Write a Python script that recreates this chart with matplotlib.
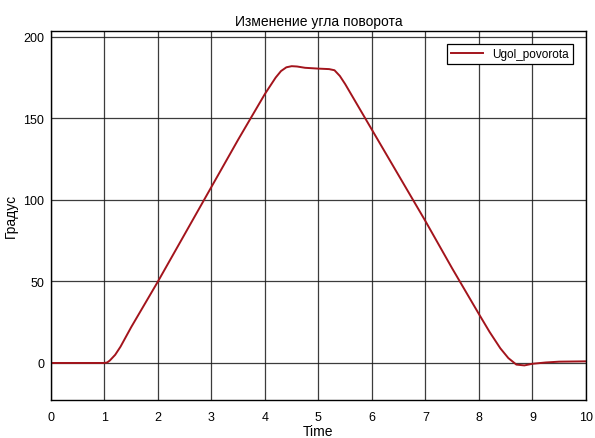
import numpy as np
import matplotlib
matplotlib.use("Agg")
import matplotlib.pyplot as plt

plt.rcParams['font.family'] = ['Liberation Sans', 'DejaVu Sans']

# values
time = [0, 0.5, 1.0, 1.05, 1.1, 1.2, 1.3, 1.4, 1.5, 1.75, 2.0, 2.5, 3.0, 3.5, 4.0,
        4.1, 4.2, 4.3, 4.4, 4.5, 4.6, 4.75, 5.0, 5.2, 5.3, 5.4, 5.5, 5.75, 6.0,
        6.5, 7.0, 7.5, 8.0, 8.2, 8.4, 8.55, 8.7, 8.85, 9.0, 9.25, 9.5, 10.0]
ugol = [0, 0, 0, 0.3, 1.5, 5, 10, 16, 22, 36, 50, 79, 108, 137, 165,
        170, 175, 179, 181.3, 182, 181.8, 181, 180.5, 180.2, 179.5, 176, 171, 157, 143,
        115, 87, 58, 30, 19, 9, 3, -1, -1.5, -0.5, 0.3, 0.8, 1]

xticks = list(range(0, 11))
yticks = [0, 50, 100, 150, 200]

fig = plt.figure(figsize=(5.95, 4.39), dpi=100)
ax = fig.add_axes([0.0857, 0.0866, 0.899, 0.841])

ax.plot(time, ugol, color='#a3141c', linewidth=1.4, label='Ugol_povorota')

ax.set_xlim(0, 10)
ax.set_ylim(-22.7, 203.7)
ax.set_xticks(xticks)
ax.set_yticks(yticks)
ax.grid(True, color='#1a1a1a', linewidth=0.9, alpha=0.85)
ax.tick_params(axis='x', length=0, labelsize=9, pad=8)
ax.tick_params(axis='y', length=0, labelsize=9, pad=5)
for s in ax.spines.values():
    s.set_linewidth(1.0)

ax.set_title('Изменение угла поворота', fontsize=10, pad=4)
ax.set_xlabel('Time', fontsize=10, labelpad=1)
ax.set_ylabel('Градус', fontsize=10)
ax.yaxis.set_label_coords(-0.062, 0.5)

leg = ax.legend(loc='upper right', fontsize=8.5, fancybox=False, framealpha=1,
                edgecolor='black', handlelength=2.7, borderaxespad=1.1,
                borderpad=0.35)
leg.get_frame().set_linewidth(0.9)

fig.savefig('out.png', dpi=100)
